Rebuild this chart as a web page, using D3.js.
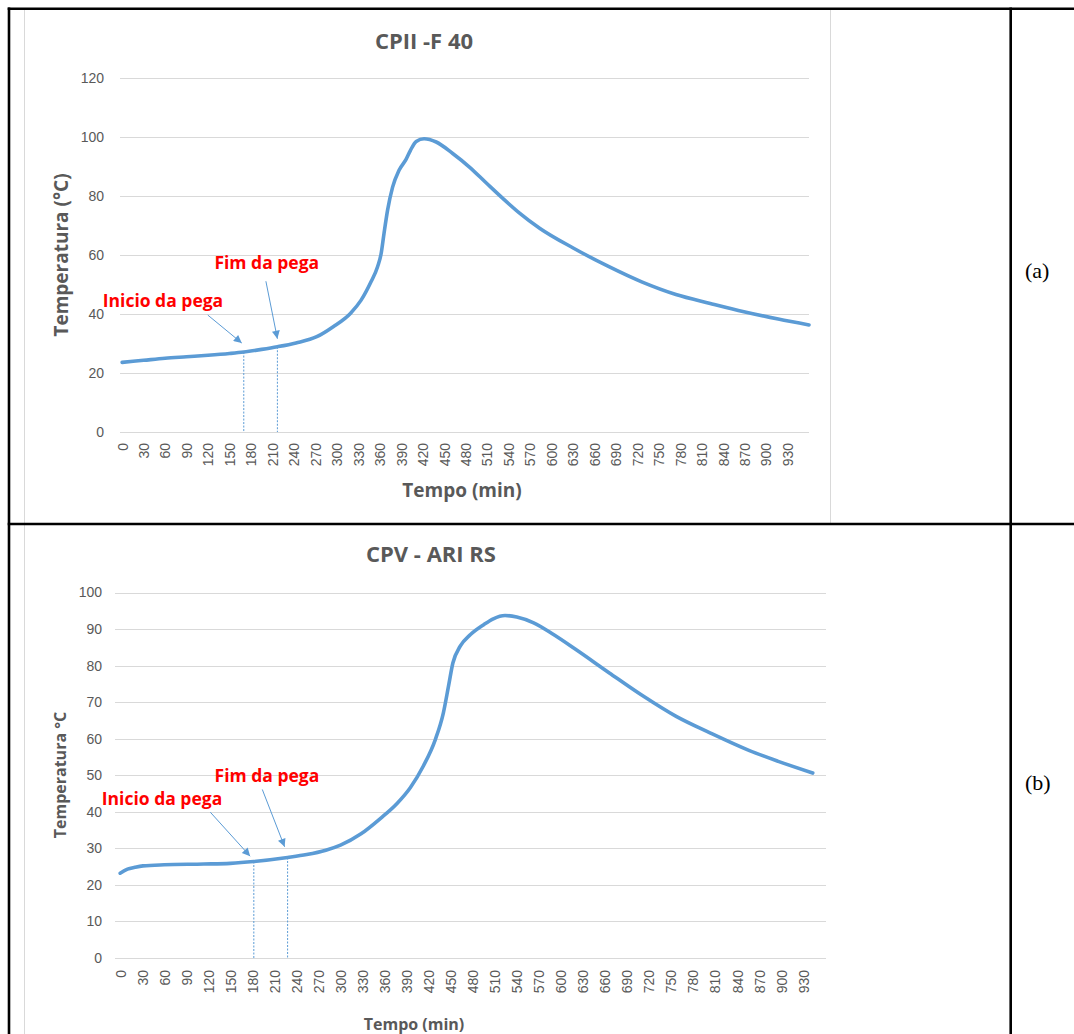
<!DOCTYPE html>
<html>
<head>
<meta charset="utf-8">
<title>CPII -F 40 / CPV - ARI RS</title>
<script src="https://cdn.jsdelivr.net/npm/d3@7"></script>
<style>
body { margin: 0; background: #fff; }
svg { display: block; font-family: "Open Sans", sans-serif; }
.grid line { stroke: #d9d9d9; stroke-width: 1; shape-rendering: crispEdges; }
.grid path, .xaxis path { display: none; }
.tick text { fill: #595959; font-size: 14px; }
.title { fill: #595959; font-size: 22px; font-weight: bold; }
.axis-title { fill: #595959; font-weight: bold; }
.curve { fill: none; stroke: #5b9bd5; stroke-width: 3.6; stroke-linejoin: round; stroke-linecap: round; }
.mark-line { stroke: #5b9bd5; stroke-width: 1; stroke-dasharray: 2,1.5; }
.arrow { stroke: #5b9bd5; stroke-width: 1; }
.note { fill: #ff0000; font-size: 17.5px; font-weight: bold; }
.cell { fill: #000; font-family: "Liberation Serif", serif; font-size: 22px; }
</style>
</head>
<body>
<script>
// (a) CPII -F 40 : time (min) / temperature (°C)
var timeA = [0, 30, 60, 90, 120, 150, 170, 195, 217, 243, 272, 295, 319, 334, 348, 357, 362, 366, 371, 378,
  387, 397, 403, 411, 422, 439, 462, 485, 509, 532, 555, 584, 631, 679, 727, 774, 822, 869, 917, 960];
var tempA = [23.6, 24.3, 25.0, 25.5, 26.0, 26.6, 27.1, 28.0, 28.9, 30.2, 32.3, 35.7, 40.2, 44.7, 51.0, 56.0, 60.5, 67.3, 75.2, 83.0,
  88.7, 92.5, 95.5, 98.5, 99.4, 98.3, 94.4, 89.9, 84.4, 79.2, 74.3, 69.0, 62.3, 56.2, 50.8, 46.6, 43.6, 40.8, 38.3, 36.3];

// (b) CPV - ARI RS
var timeB = [0, 10, 20, 31, 60, 114, 150, 182, 228, 254, 280, 300, 328, 355, 377, 395, 413, 429, 440, 447,
  453, 463, 477, 495, 508, 524, 540, 563, 590, 619, 666, 711, 757, 803, 856, 896, 943];
var tempB = [23.2, 24.3, 24.8, 25.2, 25.5, 25.7, 25.9, 26.4, 27.5, 28.3, 29.5, 30.9, 34.0, 38.3, 42.3, 46.6, 52.6, 59.7, 67.0, 74.3,
  80.7, 85.3, 88.5, 91.2, 92.8, 93.7, 93.3, 91.7, 88.5, 84.6, 78.0, 71.8, 66.1, 61.6, 56.8, 53.8, 50.6];

var xTickLabels = [0, 30, 60, 90, 120, 150, 180, 210, 240, 270, 300, 330, 360, 390, 420, 450, 480, 510,
  540, 570, 600, 630, 660, 690, 720, 750, 780, 810, 840, 870, 900, 930];
var yTicksA = [0, 20, 40, 60, 80, 100, 120];
var yTicksB = [0, 10, 20, 30, 40, 50, 60, 70, 80, 90, 100];

// setting times (inicio / fim da pega) and curve temperature there
var setLabels = ["Inicio da pega", "Fim da pega"];
var setTimeA = [170, 217];
var setTempA = [27.1, 28.9];
var setTimeB = [182, 228];
var setTempB = [26.4, 27.5];

var W = 1074, H = 1034;
var svg = d3.select("body").append("svg").attr("width", W).attr("height", H);

svg.append("defs").append("marker")
  .attr("id", "head")
  .attr("viewBox", "0 0 10 10")
  .attr("refX", 10).attr("refY", 5)
  .attr("markerWidth", 10).attr("markerHeight", 8)
  .attr("markerUnits", "userSpaceOnUse")
  .attr("orient", "auto")
  .append("path").attr("d", "M0,0L10,5L0,10Z").attr("fill", "#5b9bd5");

// faint chart-area frames
svg.append("line").attr("x1", 24.5).attr("x2", 24.5).attr("y1", 10).attr("y2", H).attr("stroke", "#d9d9d9");
svg.append("line").attr("x1", 830.5).attr("x2", 830.5).attr("y1", 10).attr("y2", 523).attr("stroke", "#d9d9d9");

function panel(cfg) {
  var x = d3.scaleLinear().domain(cfg.xDomain).range([cfg.left, cfg.right]);
  var y = d3.scaleLinear().domain([0, cfg.yMax]).range([cfg.bottom, cfg.top]);
  var g = svg.append("g");

  g.append("g").attr("class", "grid")
    .attr("transform", "translate(" + cfg.left + ",0)")
    .call(d3.axisLeft(y).tickValues(cfg.yTicks).tickSize(-(cfg.right - cfg.left)).tickPadding(cfg.yPad));

  var xa = g.append("g").attr("class", "xaxis")
    .attr("transform", "translate(0," + cfg.bottom + ")")
    .call(d3.axisBottom(x).tickValues(xTickLabels).tickSize(0).tickFormat(d3.format("d")));
  xa.selectAll("text")
    .attr("transform", "rotate(-90)")
    .attr("x", -cfg.xPad).attr("y", 0).attr("dy", "0.35em")
    .style("text-anchor", "end");

  g.append("text").attr("class", "title")
    .attr("x", cfg.titleX).attr("y", cfg.titleY)
    .attr("text-anchor", "middle").text(cfg.title);

  g.append("text").attr("class", "axis-title")
    .attr("x", cfg.xTitleX).attr("y", cfg.xTitleY)
    .attr("text-anchor", "middle").style("font-size", cfg.axisFont + "px")
    .text("Tempo (min)");

  g.append("text").attr("class", "axis-title")
    .attr("transform", "translate(" + cfg.yTitleX + "," + cfg.yTitleY + ") rotate(-90)")
    .attr("text-anchor", "middle").style("font-size", cfg.axisFont + "px")
    .text(cfg.yTitle);

  var pts = cfg.time.map(function (t, i) { return [t, cfg.temp[i]]; });
  var line = d3.line()
    .x(function (d) { return x(d[0]); })
    .y(function (d) { return y(d[1]); })
    .curve(d3.curveMonotoneX);

  // dashed drop lines at setting times
  cfg.setTime.forEach(function (t, i) {
    g.append("line").attr("class", "mark-line")
      .attr("x1", x(t)).attr("x2", x(t))
      .attr("y1", y(cfg.setTemp[i])).attr("y2", cfg.bottom);
  });

  g.append("path").datum(pts).attr("class", "curve").attr("d", line);

  // arrows and labels
  cfg.setTime.forEach(function (t, i) {
    var px = x(t), py = y(cfg.setTemp[i]), o = cfg.notes[i];
    g.append("line").attr("class", "arrow")
      .attr("x1", px + o.tail[0]).attr("y1", py + o.tail[1])
      .attr("x2", px + o.tip[0]).attr("y2", py + o.tip[1])
      .attr("marker-end", "url(#head)");
    g.append("text").attr("class", "note")
      .attr("x", px + o.text[0]).attr("y", py + o.text[1])
      .text(setLabels[i]);
  });

  svg.append("text").attr("class", "cell")
    .attr("x", 1025).attr("y", cfg.cellY).text(cfg.cell);
}

panel({
  title: "CPII -F 40", titleX: 424, titleY: 49,
  time: timeA, temp: tempA, yMax: 120, yTicks: yTicksA,
  xDomain: [-3, 960], left: 120, right: 809, top: 78, bottom: 432,
  yPad: 16, xPad: 11,
  xTitleX: 462, xTitleY: 497, yTitleX: 68, yTitleY: 255, axisFont: 19,
  yTitle: "Temperatura (°C)",
  setTime: setTimeA, setTemp: setTempA,
  notes: [
    { tip: [-2, -9], tail: [-36, -37], text: [-141, -45] },
    { tip: [0, -8], tail: [-11.5, -65.5], text: [-63, -77.5] }
  ],
  cell: "(a)", cellY: 278
});

panel({
  title: "CPV - ARI RS", titleX: 431, titleY: 562,
  time: timeB, temp: tempB, yMax: 100, yTicks: yTicksB,
  xDomain: [-7, 961], left: 115, right: 826, top: 592.5, bottom: 958,
  yPad: 13, xPad: 12,
  xTitleX: 414, xTitleY: 1030, yTitleX: 66, yTitleY: 775, axisFont: 16,
  yTitle: "Temperatura °C",
  setTime: setTimeB, setTemp: setTempB,
  notes: [
    { tip: [-3.7, -5.3], tail: [-43.5, -49.3], text: [-152, -57] },
    { tip: [-3, -10.7], tail: [-25.3, -68], text: [-73, -75] }
  ],
  cell: "(b)", cellY: 790
});

// table rules
var rule = svg.append("g").attr("stroke", "#000").attr("stroke-width", 2.6);
rule.append("line").attr("x1", 7.7).attr("x2", W).attr("y1", 8.7).attr("y2", 8.7);
rule.append("line").attr("x1", 9).attr("x2", 9).attr("y1", 7.4).attr("y2", H);
rule.append("line").attr("x1", 7.7).attr("x2", W).attr("y1", 524).attr("y2", 524);
rule.append("line").attr("x1", 1010.7).attr("x2", 1010.7).attr("y1", 7.4).attr("y2", H);
</script>
</body>
</html>
